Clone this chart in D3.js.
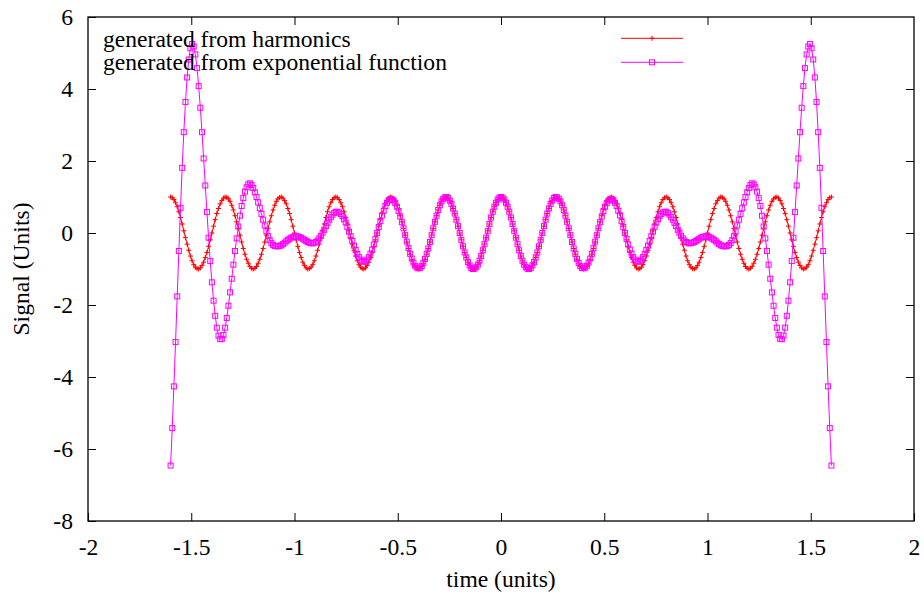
<!DOCTYPE html>
<html>
<head>
<meta charset="utf-8">
<script src="https://cdn.jsdelivr.net/npm/d3@7"></script>
<style>
  html, body { margin: 0; padding: 0; background: #fff; }
  svg { display: block; }
  text { font-family: "Liberation Serif", "DejaVu Serif", serif; font-size: 23.6px; fill: #000; }
</style>
</head>
<body>
<svg id="chart" width="924" height="598"></svg>
<script>
// ---- data ----
const tStart = -1.6;
const tStep = 0.008;
const sampleCount = 401;

const harmonics = [
1.00,0.98,0.93,0.84,0.73,0.59,0.43,0.25,0.06,-0.13,-0.31,-0.48,-0.64,-0.77,-0.88,-0.95,-0.99,-1.00,-0.97,-0.90,-0.81,-0.68,-0.54,-0.37,-0.19,0.00,0.19,0.37,0.54,0.68,0.81,0.90,0.97,1.00,0.99,0.95,0.88,0.77,0.64,0.48,0.31,0.13,-0.06,-0.25,-0.43,-0.59,-0.73,-0.84,-0.93,-0.98,-1.00,-0.98,-0.93,-0.84,-0.73,-0.59,-0.43,-0.25,-0.06,0.13,0.31,0.48,0.64,0.77,0.88,0.95,0.99,1.00,0.97,0.90,0.81,0.68,0.54,0.37,0.19,0.00,-0.19,-0.37,-0.54,-0.68,-0.81,-0.90,-0.97,-1.00,-0.99,-0.95,-0.88,-0.77,-0.64,-0.48,-0.31,-0.13,0.06,0.25,0.43,0.59,0.73,0.84,0.93,0.98,1.00,
0.98,0.93,0.84,0.73,0.59,0.43,0.25,0.06,-0.13,-0.31,-0.48,-0.64,-0.77,-0.88,-0.95,-0.99,-1.00,-0.97,-0.90,-0.81,-0.68,-0.54,-0.37,-0.19,0.00,0.19,0.37,0.54,0.68,0.81,0.90,0.97,1.00,0.99,0.95,0.88,0.77,0.64,0.48,0.31,0.13,-0.06,-0.25,-0.43,-0.59,-0.73,-0.84,-0.93,-0.98,-1.00,-0.98,-0.93,-0.84,-0.73,-0.59,-0.43,-0.25,-0.06,0.13,0.31,0.48,0.64,0.77,0.88,0.95,0.99,1.00,0.97,0.90,0.81,0.68,0.54,0.37,0.19,0.00,-0.19,-0.37,-0.54,-0.68,-0.81,-0.90,-0.97,-1.00,-0.99,-0.95,-0.88,-0.77,-0.64,-0.48,-0.31,-0.13,0.06,0.25,0.43,0.59,0.73,0.84,0.93,0.98,1.00,
0.98,0.93,0.84,0.73,0.59,0.43,0.25,0.06,-0.13,-0.31,-0.48,-0.64,-0.77,-0.88,-0.95,-0.99,-1.00,-0.97,-0.90,-0.81,-0.68,-0.54,-0.37,-0.19,0.00,0.19,0.37,0.54,0.68,0.81,0.90,0.97,1.00,0.99,0.95,0.88,0.77,0.64,0.48,0.31,0.13,-0.06,-0.25,-0.43,-0.59,-0.73,-0.84,-0.93,-0.98,-1.00,-0.98,-0.93,-0.84,-0.73,-0.59,-0.43,-0.25,-0.06,0.13,0.31,0.48,0.64,0.77,0.88,0.95,0.99,1.00,0.97,0.90,0.81,0.68,0.54,0.37,0.19,0.00,-0.19,-0.37,-0.54,-0.68,-0.81,-0.90,-0.97,-1.00,-0.99,-0.95,-0.88,-0.77,-0.64,-0.48,-0.31,-0.13,0.06,0.25,0.43,0.59,0.73,0.84,0.93,0.98,1.00,
0.98,0.93,0.84,0.73,0.59,0.43,0.25,0.06,-0.13,-0.31,-0.48,-0.64,-0.77,-0.88,-0.95,-0.99,-1.00,-0.97,-0.90,-0.81,-0.68,-0.54,-0.37,-0.19,0.00,0.19,0.37,0.54,0.68,0.81,0.90,0.97,1.00,0.99,0.95,0.88,0.77,0.64,0.48,0.31,0.13,-0.06,-0.25,-0.43,-0.59,-0.73,-0.84,-0.93,-0.98,-1.00,-0.98,-0.93,-0.84,-0.73,-0.59,-0.43,-0.25,-0.06,0.13,0.31,0.48,0.64,0.77,0.88,0.95,0.99,1.00,0.97,0.90,0.81,0.68,0.54,0.37,0.19,0.00,-0.19,-0.37,-0.54,-0.68,-0.81,-0.90,-0.97,-1.00,-0.99,-0.95,-0.88,-0.77,-0.64,-0.48,-0.31,-0.13,0.06,0.25,0.43,0.59,0.73,0.84,0.93,0.98,1.00
];

const exponential = [
-6.46,-5.42,-4.26,-3.03,-1.76,-0.50,0.70,1.81,2.80,3.64,
4.32,4.82,5.13,5.25,5.18,4.96,4.58,4.08,3.48,2.80,
2.07,1.32,0.58,-0.13,-0.78,-1.37,-1.88,-2.30,-2.63,-2.85,
-2.95,-2.94,-2.83,-2.63,-2.36,-2.02,-1.65,-1.27,-0.88,-0.50,
-0.15,0.18,0.48,0.75,0.97,1.15,1.27,1.35,1.38,1.33,
1.25,1.13,1.00,0.85,0.69,0.53,0.37,0.21,0.05,-0.09,
-0.20,-0.28,-0.33,-0.36,-0.37,-0.37,-0.36,-0.34,-0.31,-0.27,
-0.23,-0.19,-0.16,-0.13,-0.11,-0.09,-0.09,-0.10,-0.11,-0.13,
-0.16,-0.19,-0.22,-0.25,-0.27,-0.28,-0.29,-0.27,-0.25,-0.21,
-0.15,-0.08,0.01,0.09,0.19,0.28,0.37,0.44,0.51,0.56,
0.59,0.59,0.57,0.53,0.47,0.38,0.29,0.17,0.04,-0.09,
-0.22,-0.35,-0.47,-0.58,-0.67,-0.74,-0.78,-0.80,-0.79,-0.74,
-0.67,-0.57,-0.46,-0.32,-0.17,0.00,0.17,0.33,0.49,0.62,
0.75,0.84,0.91,0.94,0.93,0.90,0.83,0.73,0.61,0.46,
0.30,0.13,-0.06,-0.24,-0.42,-0.58,-0.71,-0.82,-0.91,-0.96,
-0.98,-0.97,-0.92,-0.83,-0.72,-0.58,-0.43,-0.25,-0.06,0.13,
0.31,0.48,0.64,0.77,0.88,0.95,0.99,1.00,0.97,0.90,
0.81,0.68,0.54,0.37,0.19,0.00,-0.19,-0.37,-0.54,-0.68,
-0.81,-0.90,-0.97,-1.00,-0.99,-0.95,-0.88,-0.77,-0.64,-0.48,
-0.31,-0.13,0.06,0.25,0.43,0.59,0.73,0.84,0.93,0.98,
1.00,0.98,0.93,0.84,0.73,0.59,0.43,0.25,0.06,-0.13,
-0.31,-0.48,-0.64,-0.77,-0.88,-0.95,-0.99,-1.00,-0.97,-0.90,
-0.81,-0.68,-0.54,-0.37,-0.19,0.00,0.19,0.37,0.54,0.68,
0.81,0.90,0.97,1.00,0.99,0.95,0.88,0.77,0.64,0.48,
0.31,0.13,-0.06,-0.25,-0.43,-0.58,-0.72,-0.83,-0.92,-0.97,
-0.98,-0.96,-0.91,-0.82,-0.71,-0.58,-0.42,-0.24,-0.06,0.13,
0.30,0.46,0.61,0.73,0.83,0.90,0.93,0.94,0.91,0.84,
0.75,0.62,0.49,0.33,0.17,0.00,-0.17,-0.32,-0.46,-0.57,
-0.67,-0.74,-0.79,-0.80,-0.78,-0.74,-0.67,-0.58,-0.47,-0.35,
-0.22,-0.09,0.04,0.17,0.29,0.38,0.47,0.53,0.57,0.59,
0.59,0.56,0.51,0.44,0.37,0.28,0.19,0.09,0.01,-0.08,
-0.15,-0.21,-0.25,-0.27,-0.29,-0.28,-0.27,-0.25,-0.22,-0.19,
-0.16,-0.13,-0.11,-0.10,-0.09,-0.09,-0.11,-0.13,-0.16,-0.19,
-0.23,-0.27,-0.31,-0.34,-0.36,-0.37,-0.37,-0.36,-0.33,-0.28,
-0.20,-0.09,0.05,0.21,0.37,0.53,0.69,0.85,1.00,1.13,
1.25,1.33,1.38,1.35,1.27,1.15,0.97,0.75,0.48,0.18,
-0.15,-0.50,-0.88,-1.27,-1.65,-2.02,-2.36,-2.63,-2.83,-2.94,
-2.95,-2.85,-2.63,-2.30,-1.88,-1.37,-0.78,-0.13,0.58,1.32,
2.07,2.80,3.48,4.08,4.58,4.96,5.18,5.25,5.13,4.82,
4.32,3.64,2.80,1.81,0.70,-0.50,-1.76,-3.03,-4.26,-5.42,
-6.46
];

const xTickValues = [-2, -1.5, -1, -0.5, 0, 0.5, 1, 1.5, 2];
const xTickLabels = ["-2", "-1.5", "-1", "-0.5", "0", "0.5", "1", "1.5", "2"];
const yTickValues = [-8, -6, -4, -2, 0, 2, 4, 6];
const yTickLabels = ["-8", "-6", "-4", "-2", "0", "2", "4", "6"];

const seriesNames = ["generated from harmonics", "generated from exponential function"];
const seriesColors = ["#ff0000", "#ff00ff"];

const xTitle = "time (units)";
const yTitle = "Signal (Units)";

// ---- layout ----
const svg = d3.select("#chart");
const pLeft = 88, pRight = 914, pTop = 17, pBottom = 521;

const x = d3.scaleLinear().domain([-2, 2]).range([pLeft, pRight]);
const y = d3.scaleLinear().domain([-8, 6]).range([pBottom, pTop]);

const times = d3.range(sampleCount).map(i => tStart + i * tStep);
const redData = times.map((t, i) => ({ t, v: harmonics[i] }));
const magData = times.map((t, i) => ({ t, v: exponential[i] }));

// axes (gnuplot style: inward ticks, mirrored)
const fmtX = d => xTickLabels[xTickValues.indexOf(d)];
const fmtY = d => yTickLabels[yTickValues.indexOf(d)];

function styleAxis(g) {
  g.select(".domain").remove();
  g.selectAll(".tick line").attr("stroke", "#000").attr("stroke-width", 1);
  g.selectAll(".tick text").attr("fill", "#000");
  g.attr("font-family", null).attr("font-size", null);
}

svg.append("g").attr("transform", `translate(0,${pBottom})`)
  .call(d3.axisBottom(x).tickValues(xTickValues).tickFormat(fmtX).tickSize(-8).tickPadding(17))
  .call(styleAxis);
svg.append("g").attr("transform", `translate(0,${pTop})`)
  .call(d3.axisTop(x).tickValues(xTickValues.slice(1, -1)).tickFormat("").tickSize(-8))
  .call(styleAxis);
svg.append("g").attr("transform", `translate(${pLeft},0)`)
  .call(d3.axisLeft(y).tickValues(yTickValues).tickFormat(fmtY).tickSize(-8).tickPadding(15))
  .call(styleAxis);
svg.append("g").attr("transform", `translate(${pRight},0)`)
  .call(d3.axisRight(y).tickValues(yTickValues.slice(1, -1)).tickFormat("").tickSize(-8))
  .call(styleAxis);

// border
svg.append("rect")
  .attr("x", pLeft).attr("y", pTop)
  .attr("width", pRight - pLeft).attr("height", pBottom - pTop)
  .attr("fill", "none").attr("stroke", "#000").attr("stroke-width", 1.3);

// axis titles
svg.append("text").attr("x", (pLeft + pRight) / 2).attr("y", 587)
  .attr("text-anchor", "middle").text(xTitle);
svg.append("text").attr("transform", `translate(29,${(pTop + pBottom) / 2}) rotate(-90)`)
  .attr("text-anchor", "middle").text(yTitle);

// series
const line = d3.line().x(d => x(d.t)).y(d => y(d.v));
const plot = svg.append("g");

// red: line + plus markers
plot.append("path").datum(redData)
  .attr("d", line).attr("fill", "none")
  .attr("stroke", seriesColors[0]).attr("stroke-width", 1);
plot.append("g").selectAll("path").data(redData).join("path")
  .attr("d", d => `M${x(d.t) - 2.5},${y(d.v)}h5M${x(d.t)},${y(d.v) - 2.5}v5`)
  .attr("stroke", seriesColors[0]).attr("stroke-width", 1).attr("fill", "none");

// magenta: line + open square markers
plot.append("path").datum(magData)
  .attr("d", line).attr("fill", "none")
  .attr("stroke", seriesColors[1]).attr("stroke-width", 1);
plot.append("g").selectAll("rect").data(magData).join("rect")
  .attr("x", d => x(d.t) - 2.5).attr("y", d => y(d.v) - 2.5)
  .attr("width", 5).attr("height", 5)
  .attr("fill", "none").attr("stroke", seriesColors[1]).attr("stroke-width", 1);

// legend
const legend = svg.append("g");
const legendRows = [46.5, 70];
const sampleY = [38.3, 62.3];
seriesNames.forEach((name, i) => {
  legend.append("text").attr("x", 103).attr("y", legendRows[i]).text(name);
  legend.append("line")
    .attr("x1", 621).attr("x2", 683).attr("y1", sampleY[i]).attr("y2", sampleY[i])
    .attr("stroke", seriesColors[i]).attr("stroke-width", 1);
});
legend.append("path")
  .attr("d", `M${652 - 2.5},${sampleY[0]}h5M652,${sampleY[0] - 2.5}v5`)
  .attr("stroke", seriesColors[0]).attr("fill", "none");
legend.append("rect")
  .attr("x", 652 - 2.5).attr("y", sampleY[1] - 2.5).attr("width", 5).attr("height", 5)
  .attr("stroke", seriesColors[1]).attr("fill", "none");
</script>
</body>
</html>
